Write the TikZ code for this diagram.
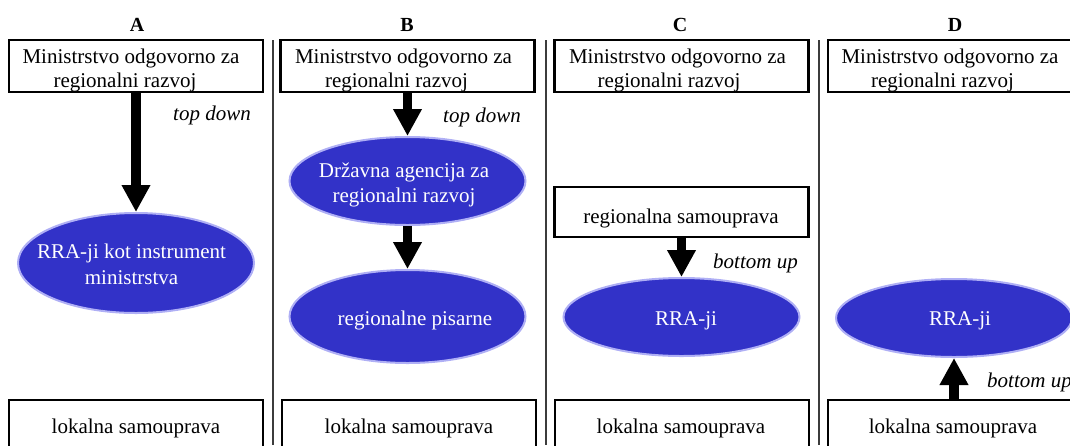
\documentclass[tikz,border=0pt]{standalone}
\usepackage{fontspec}
\setmainfont{Liberation Serif}
\usetikzlibrary{arrows.meta,shapes.geometric}
\definecolor{ellfill}{RGB}{50,50,200}
\definecolor{ellrim}{RGB}{175,175,245}
\definecolor{sepgray}{RGB}{60,60,60}
\begin{document}
\begin{tikzpicture}[x=1pt,y=-1pt,
  head/.style={font=\fontsize{20}{24}\selectfont\bfseries, inner sep=0pt},
  txt/.style={font=\fontsize{21}{24}\selectfont, inner sep=0pt, align=center},
  etxt/.style={font=\fontsize{21}{26}\selectfont, inner sep=0pt, align=center, text=white},
  itl/.style={font=\fontsize{21}{24}\selectfont\itshape, inner sep=0pt},
  topbox/.style={draw=black, line width=2.5pt, minimum width=254pt, minimum height=52pt, inner sep=0pt},
  midbox/.style={draw=black, line width=2.2pt, minimum width=254pt, minimum height=50pt, inner sep=0pt},
  botbox/.style={draw=black, line width=2.2pt, minimum width=254pt, minimum height=80pt, inner sep=0pt},
  ell/.style={ellipse, draw=ellrim, line width=2pt, fill=ellfill, minimum width=236pt, inner sep=0pt},
  sepline/.style={draw=sepgray, line width=1.5pt},
  bigarrow/.style={line width=9.5pt, -{Triangle[width=27pt,length=27pt]}}]
\useasboundingbox (0,0) rectangle (1070,445);
\clip (0,0) rectangle (1070,445);

% headers
\node[head, anchor=base] (hA) at (137,31) {A};
\node[head, anchor=base] (hB) at (407,31) {B};
\node[head, anchor=base] (hC) at (680,31) {C};
\node[head, anchor=base] (hD) at (955,31) {D};

% separators
\draw[sepline] (273,40) -- (273,445);
\draw[sepline] (546,40) -- (546,445);
\draw[sepline] (819,40) -- (819,445);

% top boxes
\node[topbox] (mA) at (136,66) {};
\node[topbox] (mB) at (407.5,66) {};
\node[topbox] (mC) at (681.5,66) {};
\node[topbox] (mD) at (955,66) {};
\node[txt] (mAt) at (131,70) {Ministrstvo odgovorno za\\regionalni razvoj\hspace*{12pt}};
\node[txt] (mBt) at (403.5,70) {Ministrstvo odgovorno za\\regionalni razvoj\hspace*{14pt}};
\node[txt] (mCt) at (677.5,70) {Ministrstvo odgovorno za\\regionalni razvoj\hspace*{17pt}};
\node[txt] (mDt) at (950,70) {Ministrstvo odgovorno za\\regionalni razvoj\hspace*{15pt}};

% panel A
\node[ell, minimum height=100pt] (eA) at (136,263) {};
\node[etxt] (eAt) at (131.5,264) {RRA-ji kot instrument\\ministrstva};

% panel B
\node[ell, minimum height=88pt] (eB1) at (407.5,181) {};
\node[etxt, font=\fontsize{21}{25}\selectfont] (eB1t) at (404,184.6) {Državna agencija za\\regionalni razvoj};
\node[ell, minimum height=93pt] (eB2) at (407.5,316.5) {};
\node[etxt, anchor=base] (eB2t) at (415,325) {regionalne pisarne};

% panel C
\node[midbox] (rC) at (681.5,212) {};
\node[txt, anchor=base] (rCt) at (681,223) {regionalna samouprava};
\node[ell, minimum height=78pt] (eC) at (681.5,317) {};
\node[etxt, anchor=base] (eCt) at (686,325) {RRA-ji};

% panel D
\node[ell, minimum height=78pt] (eD) at (954,318) {};
\node[etxt, anchor=base] (eDt) at (960,325) {RRA-ji};

% bottom boxes
\node[botbox] (lA) at (136,440) {};
\node[botbox] (lB) at (409,440) {};
\node[botbox] (lC) at (682,440) {};
\node[botbox] (lD) at (955,440) {};
\node[txt, anchor=base] (lAt) at (136,433) {lokalna samouprava};
\node[txt, anchor=base] (lBt) at (409,433) {lokalna samouprava};
\node[txt, anchor=base] (lCt) at (681,433) {lokalna samouprava};
\node[txt, anchor=base] (lDt) at (953,433) {lokalna samouprava};

% arrows
\draw[bigarrow] (eA.north |- mA.south) -- (eA.north);
\draw[bigarrow] (eB1.north |- mB.south) -- (eB1.north);
\draw[bigarrow] (eB1.south) -- (eB2.north);
\draw[bigarrow] (eC.north |- rC.south) -- (eC.north);
\draw[bigarrow] (eD.south |- lD.north) -- (eD.south);

% labels
\node[itl, anchor=base west] (tdA) at (173,120) {top down};
\node[itl, anchor=base west] (tdB) at (443,122) {top down};
\node[itl, anchor=base west] (buC) at (713,268) {bottom up};
\node[itl, anchor=base west] (buD) at (987,387) {bottom up};
\end{tikzpicture}
\end{document}
